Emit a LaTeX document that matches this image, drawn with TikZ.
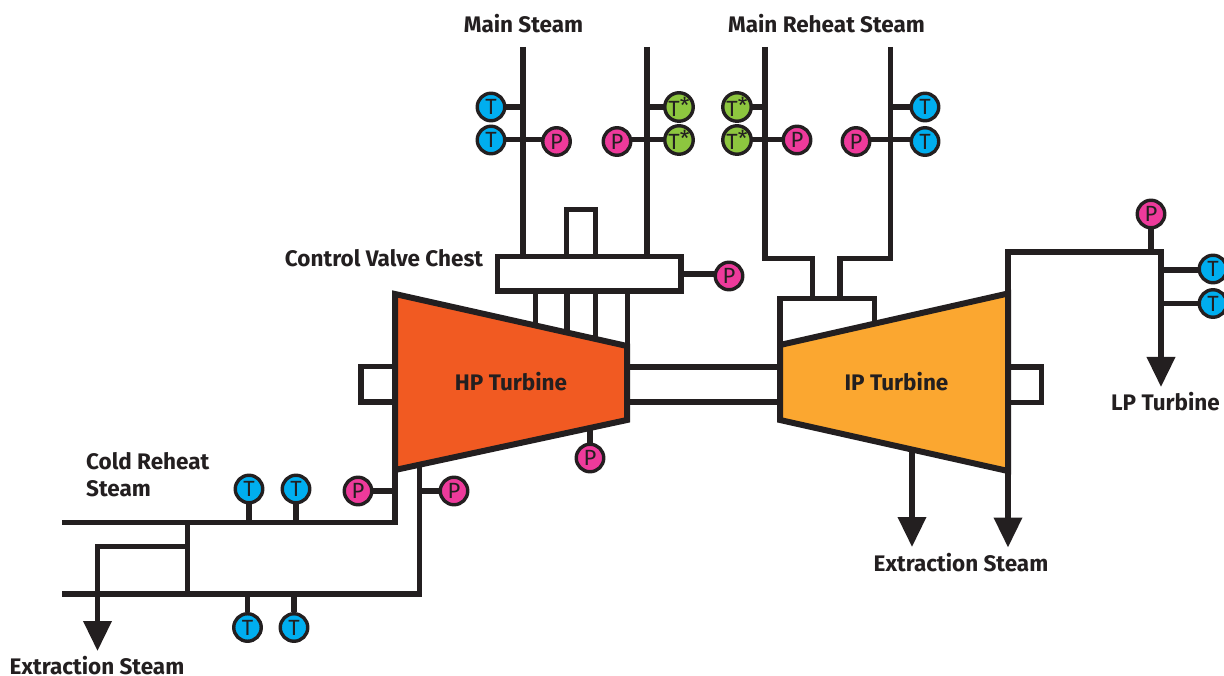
\documentclass[tikz,border=0pt]{standalone}
\usepackage{fontspec}
\setmainfont{Fira Sans}
\usetikzlibrary{arrows.meta,backgrounds}
\definecolor{ink}{HTML}{231F20}
\definecolor{tcyan}{HTML}{00AEEF}
\definecolor{pmag}{HTML}{EE3A9B}
\definecolor{tgreen}{HTML}{8DC63F}
\definecolor{hporange}{HTML}{F15A22}
\definecolor{iporange}{HTML}{FBA730}
\tikzset{
  pipe/.style={draw=ink,line width=5.3pt,line join=miter,line cap=butt},
  stem/.style={draw=ink,line width=5.3pt},
  flow/.style={pipe,-{Triangle[length=30pt,width=27.5pt]}},
  sensor/.style={circle,draw=ink,line width=3.4pt,minimum size=27.5pt,inner sep=0pt,text=ink,font=\fontsize{22}{22}\selectfont},
  tsensor/.style={sensor,fill=tcyan},
  psensor/.style={sensor,fill=pmag},
  gsensor/.style={sensor,fill=tgreen},
  turbine/.style={draw=ink,line width=6pt,line join=miter,miter limit=10},
  label/.style={text=ink,font=\fontsize{22.5}{27}\selectfont\bfseries,inner sep=0pt,align=left},
}
\begin{document}
\begin{tikzpicture}[x=1pt,y=-1pt]
\useasboundingbox (0,0) rectangle (1224,676);
% sensors
\node[tsensor] (t1) at (491,107) {T};
\node[tsensor] (t2) at (491,140) {T};
\node[psensor] (p1) at (556.5,141.5) {P};
\node[psensor] (p2) at (617,141.5) {P};
\node[gsensor] (g1) at (679,107) {T\raisebox{3pt}{*}};
\node[gsensor] (g2) at (679,140) {T\raisebox{3pt}{*}};
\node[gsensor] (g3) at (737,107) {T\raisebox{3pt}{*}};
\node[gsensor] (g4) at (737,140) {T\raisebox{3pt}{*}};
\node[psensor] (p3) at (797,140) {P};
\node[psensor] (p4) at (856,141.5) {P};
\node[tsensor] (t3) at (925,107) {T};
\node[tsensor] (t4) at (925,141.5) {T};
\node[psensor] (p5) at (729,276) {P};
\node[psensor] (p6) at (1151,214) {P};
\node[tsensor] (t5) at (1213,269) {T};
\node[tsensor] (t6) at (1213,303.5) {T};
\node[psensor] (p7) at (590,458) {P};
\node[tsensor] (t7) at (249,489) {T};
\node[tsensor] (t8) at (296,489) {T};
\node[psensor] (p8) at (358,491) {P};
\node[psensor] (p9) at (454,491) {P};
\node[tsensor] (t9) at (247.5,627.5) {T};
\node[tsensor] (t10) at (294,627.5) {T};
% free ends and junctions
\coordinate (ms1) at (523,47); \coordinate (ms2) at (647,47);
\coordinate (rs1) at (765,47); \coordinate (rs2) at (890.5,47);
\coordinate (ms1b) at (523,256); \coordinate (ms2b) at (647,256);
\coordinate (j1) at (523,107); \coordinate (j2) at (523,139.5);
\coordinate (j3) at (647,107); \coordinate (j4) at (647,139.5);
\coordinate (j5) at (765,107); \coordinate (j6) at (765,139.5);
\coordinate (j7) at (890.5,107); \coordinate (j8) at (890.5,139.5);
\coordinate (j9) at (681,274);
\coordinate (j10) at (1151,252); \coordinate (j11) at (1161,270); \coordinate (j12) at (1161,303.5);
\coordinate (j13) at (590,425); \coordinate (j14) at (249,522.5); \coordinate (j15) at (296,522.5);
\coordinate (j16) at (395,491); \coordinate (j17) at (419.5,491);
\coordinate (j18) at (247.5,594); \coordinate (j19) at (294,594);
\coordinate (ex1) at (912,430); \coordinate (ex1t) at (912,547);
\coordinate (ex2) at (1008,468); \coordinate (ex2t) at (1008,547.5);
\coordinate (lpt) at (1161,387);
\coordinate (ext3) at (97.5,651);
% sensor connectors, behind the sensors
\begin{scope}[on background layer]
\draw[stem] (j1) -- (j1 -| t1); \draw[stem] (j2) -- (j2 -| t2); \draw[stem] (j2) -- (j2 -| p1);
\draw[stem] (j3) -- (j3 -| g1); \draw[stem] (j4) -- (j4 -| g2); \draw[stem] (j4) -- (j4 -| p2);
\draw[stem] (j5) -- (j5 -| g3); \draw[stem] (j6) -- (j6 -| g4); \draw[stem] (j6) -- (j6 -| p3);
\draw[stem] (j7) -- (j7 -| t3); \draw[stem] (j8) -- (j8 -| t4); \draw[stem] (j8) -- (j8 -| p4);
\draw[stem] (j9) -- (j9 -| p5);
\draw[stem] (p6) -- (j10); \draw[stem] (j11) -- (j11 -| t5); \draw[stem] (j12) -- (j12 -| t6);
\draw[stem] (p7) -- (j13);
\draw[stem] (t7) -- (j14); \draw[stem] (t8) -- (j15);
\draw[stem] (p8) -- (j16); \draw[stem] (p9) -- (j17);
\draw[stem] (t9) -- (j18); \draw[stem] (t10) -- (j19);
\end{scope}
% pipes
\draw[pipe] (ms1) -- (ms1b);
\draw[pipe] (ms2) -- (ms2b);
\draw[pipe] (rs1) |- (812.7,258.5) -- (812.7,298.5);
\draw[pipe] (rs2) |- (840,258.5) -- (840,298.5);
% control valve chest
\draw[pipe] (566.5,256) |- (595.7,209.5) -- (595.7,256);
\foreach \x in {535.7,567,595.7,627.5} \draw[pipe] (\x,291) -- (\x,345);
\draw[pipe,line cap=rect] (497.5,256.5) rectangle (681,291);
% shaft and side boxes
\draw[pipe] (395,366.5) -| (361,402) -- (395,402);
\draw[pipe] (627,367) -- (780,367);
\draw[pipe] (627,402) -- (780,402);
\draw[pipe] (1008,367) -| (1041.5,402.5) -- (1008,402.5);
% IP inlet box
\draw[pipe] (780,345) |- (874.5,298.5) -- (874.5,323);
% cold reheat
\draw[pipe] (62,522.5) -| (395,468);
\draw[pipe] (62,594) -| (419.5,463);
\draw[pipe] (187.5,522.5) -- (187.5,594);
\draw[flow] (187.5,546.5) -| (ext3);
% outlets
\draw[flow] (ex1) -- (ex1t);
\draw[flow] (ex2) -- (ex2t);
\draw[flow] (1008,294) |- (1161,252) -- (lpt);
% turbines
\path[turbine,fill=hporange] (395,294) -- (627,346) -- (627,420) -- (395,470) -- cycle;
\path[turbine,fill=iporange] (780,345) -- (1008,293.5) -- (1008,471) -- (780,420) -- cycle;
% labels
\node[label] (lmain) at (523.5,24) {Main Steam};
\node[label] (lreh) at (826.5,24) {Main Reheat Steam};
\node[label] (lcvc) at (384,258) {Control Valve Chest};
\node[label] (lhp) at (511,382) {HP Turbine};
\node[label] (lip) at (896.5,382) {IP Turbine};
\node[label] (llp) at (1165.5,402) {LP Turbine};
\node[label] (lex1) at (961,563) {Extraction Steam};
\node[label] (lex2) at (97,665.5) {Extraction Steam};
\node[label,anchor=west] (lcold) at (86,474.5) {Cold Reheat\\Steam};
\end{tikzpicture}
\end{document}
